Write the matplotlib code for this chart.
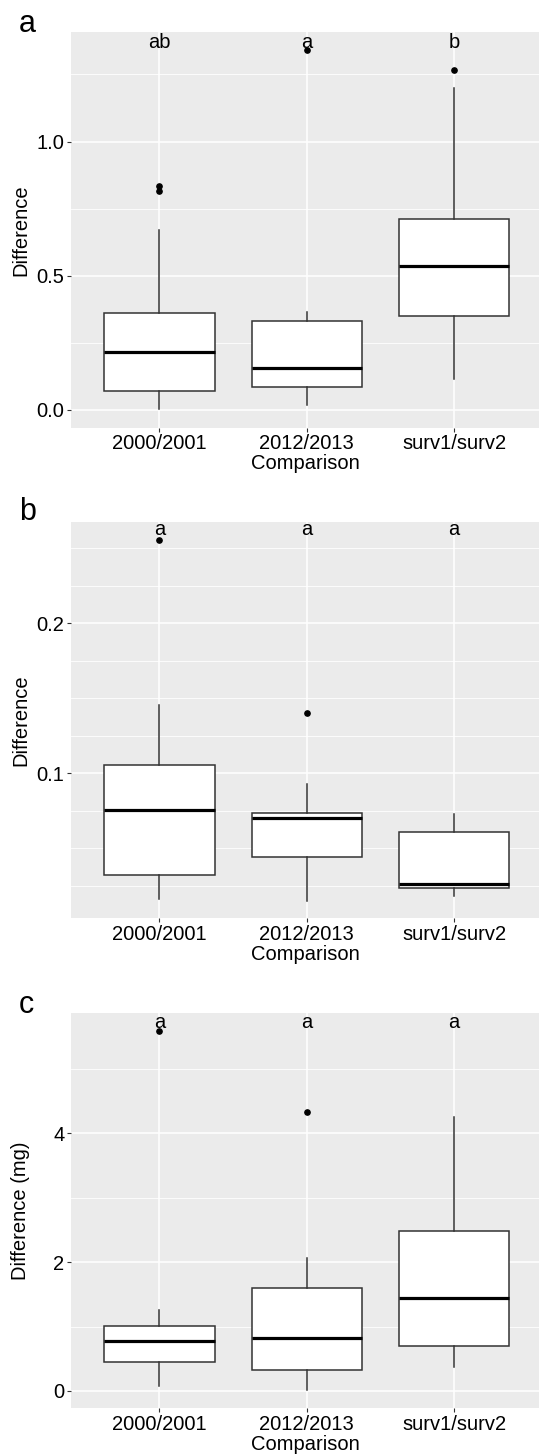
import matplotlib
matplotlib.use("Agg")
import matplotlib.pyplot as plt

plt.rcParams["font.family"] = ["Liberation Sans", "DejaVu Sans"]

# ── Data ──────────────────────────────────────────────────────────────────
comparisons = ["2000/2001", "2012/2013", "surv1/surv2"]

# panel a: Difference
a_whislo = [0.003, 0.019, 0.116]
a_q1 = [0.072, 0.087, 0.350]
a_med = [0.217, 0.158, 0.538]
a_q3 = [0.360, 0.332, 0.712]
a_whishi = [0.671, 0.364, 1.201]
a_fliers = [[0.816, 0.835], [1.342], [1.266]]
a_letters = ["ab", "a", "b"]

# panel b: Difference
b_whislo = [0.0160, 0.0151, 0.0182]
b_q1 = [0.0322, 0.0440, 0.0233]
b_med = [0.0756, 0.0700, 0.0260]
b_q3 = [0.1053, 0.0733, 0.0607]
b_whishi = [0.1456, 0.0927, 0.0727]
b_fliers = [[0.2556], [0.1404], []]
b_letters = ["a", "a", "a"]

# panel c: Difference (mg)
c_whislo = [0.078, 0.016, 0.367]
c_q1 = [0.445, 0.326, 0.699]
c_med = [0.781, 0.828, 1.439]
c_q3 = [1.009, 1.594, 2.484]
c_whishi = [1.257, 2.070, 4.248]
c_fliers = [[5.589], [4.326], []]
c_letters = ["a", "a", "a"]

W, H = 539, 1456
BG = "#EBEBEB"
EDGE = "#333333"

panels = [
    dict(tag="a", stats=(a_whislo, a_q1, a_med, a_q3, a_whishi, a_fliers),
         letters=a_letters, top=32.3, bottom=427.7, ylim=(-0.066, 1.407),
         major=[0.0, 0.5, 1.0], labels=["0.0", "0.5", "1.0"],
         minor=[0.25, 0.75, 1.25], letter_y=1.350, ylabel="Difference",
         tag_base=31.7),
    dict(tag="b", stats=(b_whislo, b_q1, b_med, b_q3, b_whishi, b_fliers),
         letters=b_letters, top=522.3, bottom=918.3, ylim=(0.00333, 0.2673),
         major=[0.1, 0.2], labels=["0.1", "0.2"],
         minor=[0.025, 0.05, 0.075, 0.125, 0.15, 0.175, 0.225, 0.25],
         letter_y=0.2589, ylabel="Difference", tag_base=520),
    dict(tag="c", stats=(c_whislo, c_q1, c_med, c_q3, c_whishi, c_fliers),
         letters=c_letters, top=1013.3, bottom=1408.3, ylim=(-0.269, 5.863),
         major=[0, 2, 4], labels=["0", "2", "4"],
         minor=[1, 3, 5], letter_y=5.64, ylabel="Difference (mg)",
         tag_base=1012.7),
]

fig = plt.figure(figsize=(W / 100, H / 100), dpi=100)
fig.patch.set_facecolor("white")

# panel runs off the right edge of the figure (cropped original)
left_px, right_px = 71, 539
positions = [1, 2, 3]

for p in panels:
    ax = fig.add_axes([left_px / W, 1 - p["bottom"] / H,
                       (right_px - left_px) / W, (p["bottom"] - p["top"]) / H])
    ax.set_facecolor(BG)
    for s in ax.spines.values():
        s.set_visible(False)

    whislo, q1, med, q3, whishi, fliers = p["stats"]
    stats = []
    for i in range(len(comparisons)):
        stats.append(dict(med=med[i], q1=q1[i], q3=q3[i], whislo=whislo[i],
                          whishi=whishi[i], fliers=fliers[i]))

    ax.bxp(stats, positions=positions, widths=0.75, patch_artist=True,
           showcaps=False,
           boxprops=dict(facecolor="white", edgecolor=EDGE, linewidth=1.1),
           medianprops=dict(color="black", linewidth=2.3, solid_capstyle="butt"),
           whiskerprops=dict(color=EDGE, linewidth=1.1),
           flierprops=dict(marker="o", markerfacecolor="black",
                           markeredgecolor="black", markersize=3.8))

    ax.set_xlim(0.4, 3.576)
    ax.set_ylim(*p["ylim"])
    ax.set_xticks(positions)
    ax.set_xticklabels(comparisons)
    ax.set_yticks(p["major"])
    ax.set_yticklabels(p["labels"])
    ax.set_yticks(p["minor"], minor=True)

    ax.set_axisbelow(True)
    ax.grid(True, which="major", color="white", linewidth=1.1)
    ax.grid(True, which="minor", axis="y", color="white", linewidth=0.6)
    ax.tick_params(which="major", length=2.75, width=0.8, color="#333333",
                   labelsize=14.5, labelcolor="black", pad=2)
    ax.tick_params(which="minor", length=0)

    for x, lab in zip(positions, p["letters"]):
        ax.text(x, p["letter_y"], lab, ha="center", va="baseline",
                fontsize=14.5, color="black")

    ax.set_ylabel(p["ylabel"], fontsize=14.5)
    ax.yaxis.set_label_coords(-0.087, 0.5)
    ax.set_xlabel("Comparison", fontsize=14.5, labelpad=0.5)

    fig.text(19 / W, 1 - p["tag_base"] / H, p["tag"], fontsize=22,
             ha="left", va="baseline")

fig.savefig("out.png", dpi=100, facecolor="white")
